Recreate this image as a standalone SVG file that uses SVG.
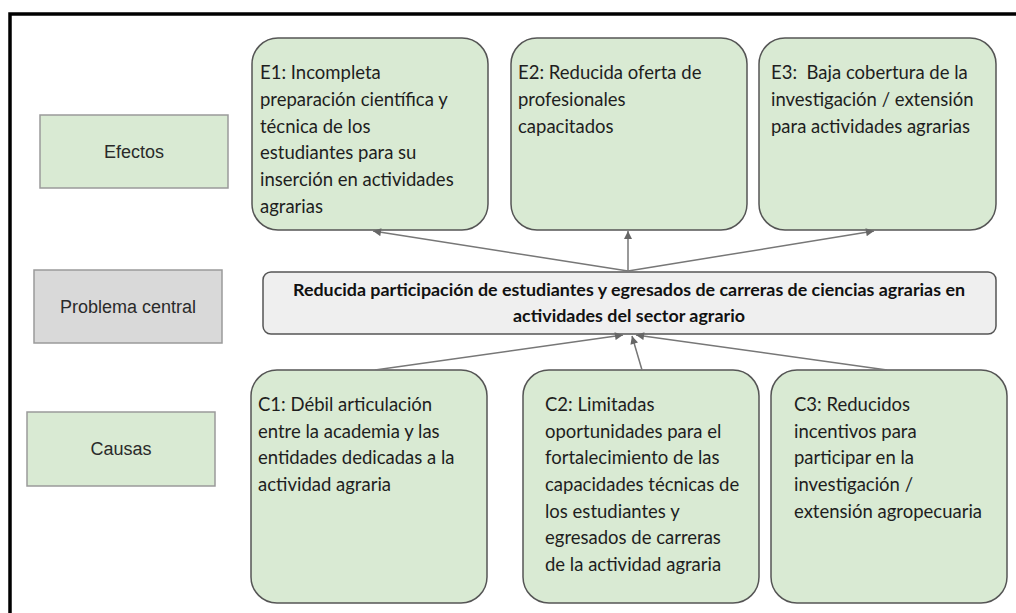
<svg xmlns="http://www.w3.org/2000/svg" width="1016" height="613" viewBox="0 0 1016 613">
<style>
.lbl{fill:#d9ead3;stroke:#9a9a9a;stroke-width:1.5}
.lblg{fill:#d9d9d9;stroke:#9a9a9a;stroke-width:1.5}
.node{fill:#d9ead3;stroke:#555;stroke-width:1.5}
.center{fill:#efefef;stroke:#555;stroke-width:1.5}
.lt{font-family:"Liberation Sans",Arial,sans-serif;font-size:18px;fill:#2a2a2a;text-anchor:middle}
.nt{font-family:Lato,"Open Sans",sans-serif;font-size:18.5px;fill:#1e1e1e}
.ct{font-family:Lato,"Open Sans",sans-serif;font-size:17px;font-weight:bold;fill:#111}
.conn line{stroke:#777;stroke-width:1.5;fill:none}
</style>
<defs>
<marker id="ah" viewBox="0 0 10 10" refX="10" refY="5" markerWidth="9" markerHeight="8" markerUnits="userSpaceOnUse" orient="auto">
<path d="M0,0 L10,5 L0,10 z" fill="#666"/>
</marker>
</defs>
<rect x="0" y="0" width="1016" height="613" fill="#fff"/>
<rect x="10" y="14" width="1100" height="700" fill="none" stroke="#000" stroke-width="3.5"/>

<g id="lbl-efectos">
<rect class="lbl" x="40" y="115" width="188" height="73"/>
<text class="lt" x="134" y="158">Efectos</text>
</g>
<g id="lbl-problema">
<rect class="lblg" x="34" y="270" width="188" height="73"/>
<text class="lt" x="128" y="313">Problema central</text>
</g>
<g id="lbl-causas">
<rect class="lbl" x="27" y="412" width="188" height="74"/>
<text class="lt" x="121" y="455">Causas</text>
</g>

<g id="E1">
<rect class="node" x="252" y="38" width="236" height="192" rx="26"/>
<text class="nt" x="260" y="79">E1: Incompleta</text>
<text class="nt" x="260" y="106">preparación científica y</text>
<text class="nt" x="260" y="133">técnica de los</text>
<text class="nt" x="260" y="159">estudiantes para su</text>
<text class="nt" x="260" y="186">inserción en actividades</text>
<text class="nt" x="260" y="213">agrarias</text>
</g>
<g id="E2">
<rect class="node" x="511" y="38" width="236" height="192" rx="26"/>
<text class="nt" x="518" y="79">E2: Reducida oferta de</text>
<text class="nt" x="518" y="106">profesionales</text>
<text class="nt" x="518" y="133">capacitados</text>
</g>
<g id="E3">
<rect class="node" x="759" y="38" width="237" height="192" rx="26"/>
<text class="nt" x="771" y="79" xml:space="preserve">E3:  Baja cobertura de la</text>
<text class="nt" x="771" y="106">investigación / extensión</text>
<text class="nt" x="771" y="133">para actividades agrarias</text>
</g>

<g id="central">
<rect class="center" x="263" y="272" width="733" height="62" rx="8"/>
<text class="ct" x="293" y="296" textLength="672" lengthAdjust="spacingAndGlyphs">Reducida participación de estudiantes y egresados de carreras de ciencias agrarias en</text>
<text class="ct" x="513" y="322" textLength="232" lengthAdjust="spacingAndGlyphs">actividades del sector agrario</text>
</g>

<g id="C1">
<rect class="node" x="251" y="370" width="236" height="233" rx="26"/>
<text class="nt" x="258" y="411">C1: Débil articulación</text>
<text class="nt" x="258" y="438">entre la academia y las</text>
<text class="nt" x="258" y="464">entidades dedicadas a la</text>
<text class="nt" x="258" y="491">actividad agraria</text>
</g>
<g id="C2">
<rect class="node" x="523" y="370" width="236" height="233" rx="26"/>
<text class="nt" x="545" y="411">C2: Limitadas</text>
<text class="nt" x="545" y="438">oportunidades para el</text>
<text class="nt" x="545" y="464">fortalecimiento de las</text>
<text class="nt" x="545" y="491">capacidades técnicas de</text>
<text class="nt" x="545" y="518">los estudiantes y</text>
<text class="nt" x="545" y="544">egresados de carreras</text>
<text class="nt" x="545" y="571">de la actividad agraria</text>
</g>
<g id="C3">
<rect class="node" x="771" y="370" width="236" height="233" rx="26"/>
<text class="nt" x="794" y="411">C3: Reducidos</text>
<text class="nt" x="794" y="438">incentivos para</text>
<text class="nt" x="794" y="464">participar en la</text>
<text class="nt" x="794" y="491">investigación /</text>
<text class="nt" x="794" y="518">extensión agropecuaria</text>
</g>

<g id="connectors" class="conn">
<line x1="628" y1="271" x2="373" y2="231" marker-end="url(#ah)"/>
<line x1="628" y1="271" x2="628" y2="231" marker-end="url(#ah)"/>
<line x1="628" y1="271" x2="874" y2="231" marker-end="url(#ah)"/>
<line x1="375" y1="370" x2="623" y2="335" marker-end="url(#ah)"/>
<line x1="642" y1="370" x2="632" y2="336" marker-end="url(#ah)"/>
<line x1="887" y1="370" x2="636" y2="335" marker-end="url(#ah)"/>
</g>
</svg>
